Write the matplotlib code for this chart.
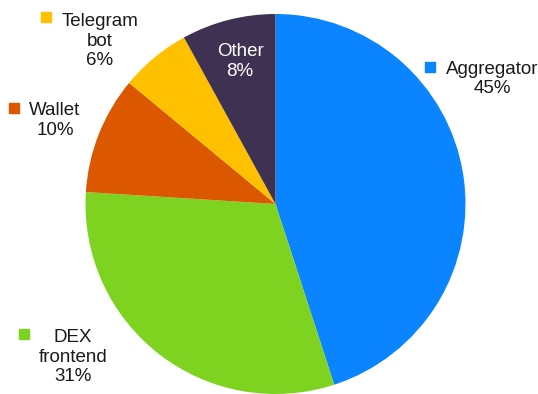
import matplotlib.pyplot as plt

labels = ['Aggregator', 'DEX\nfrontend', 'Wallet', 'Telegram\nbot', 'Other']
shares = [45, 31, 10, 6, 8]
colors = ['#0A84FF', '#7ED321', '#DB5800', '#FFC000', '#3F3152']

# label anchor (text centre) and legend-square position, in pixels from top-left
text_pos = [(492, 79), (73, 357), (55, 120.5), (100, 41), (240, 61.5)]
square_pos = [(430, 67), (24, 334), (14, 108), (46, 17), None]
text_colors = ['#1a1a1a', '#1a1a1a', '#1a1a1a', '#1a1a1a', 'white']

W, H = 538, 394

fig = plt.figure(figsize=(W / 100, H / 100), dpi=100)
ax = fig.add_axes([0, 0, 1, 1])

ax.pie(shares, colors=colors, startangle=90, counterclock=False,
       center=(275.5, H - 204), radius=190,
       wedgeprops={'linewidth': 0})
ax.set_xlim(0, W)
ax.set_ylim(0, H)
ax.set_aspect('equal')
ax.axis('off')

for lab, val, (tx, ty), sq, tc, c in zip(labels, shares, text_pos, square_pos,
                                          text_colors, colors):
    ax.text(tx, H - ty, f'{lab}\n{val}%', ha='center', va='center',
            fontsize=13.5, family='Liberation Sans', color=tc, linespacing=1.2)
    if sq is not None:
        ax.plot(sq[0], H - sq[1], marker='s', markersize=7,
                color=c, linestyle='none')

fig.savefig('out.png', dpi=100)
